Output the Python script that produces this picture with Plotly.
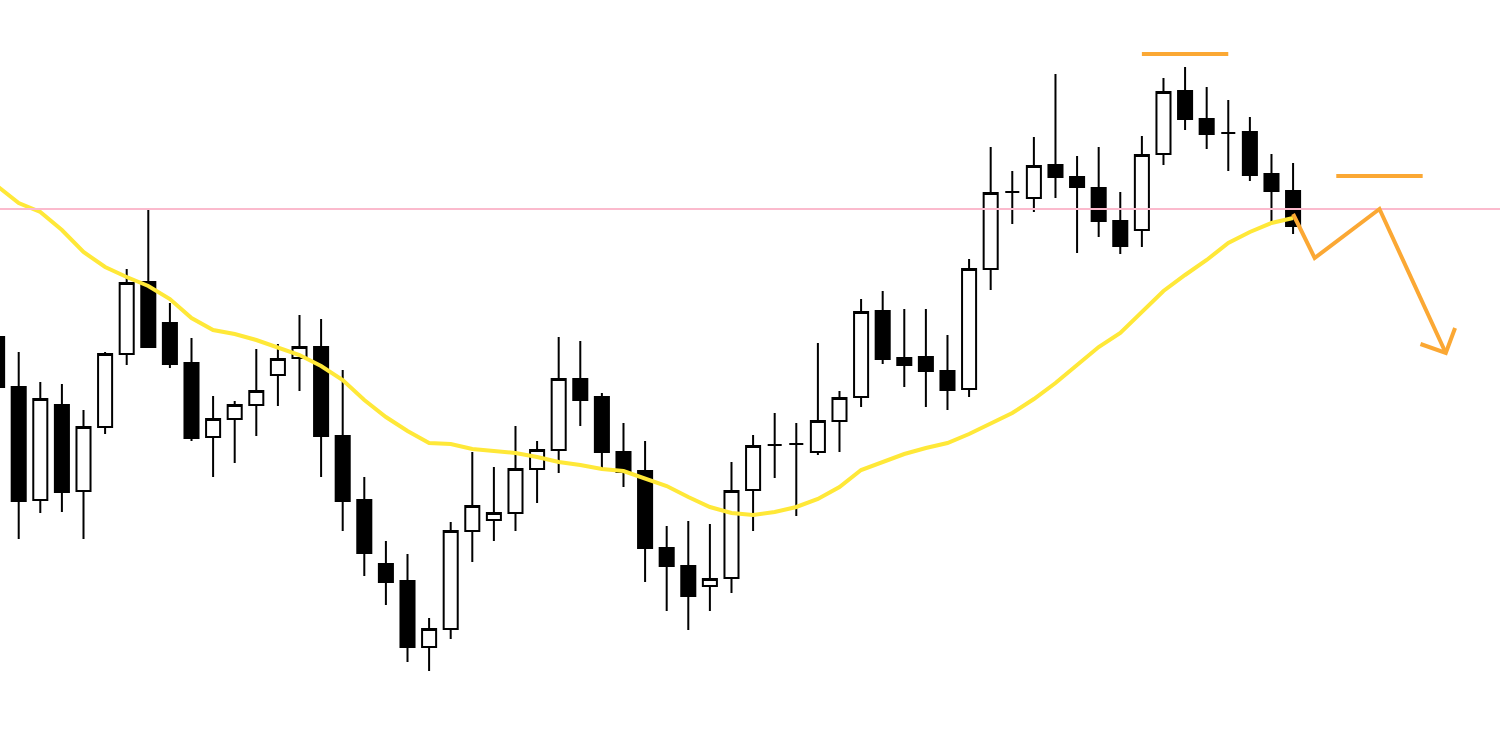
import plotly.graph_objects as go

# ---- data (price units) ----
bar_index = list(range(61))

opens = [403, 353, 240, 335, 249, 313, 386, 458, 417, 377,
         303, 321, 335, 365, 382, 393, 304, 240, 176, 159,
         93, 111, 209, 220, 227, 271, 290, 361, 343, 288,
         269, 192, 174, 154, 162, 250, 295, 296, 288, 319,
         343, 429, 382, 383, 369, 351, 471, 548, 542, 575,
         563, 552, 519, 510, 586, 649, 621, 607, 608, 566,
         549]
highs = [405, 388, 358, 356, 330, 388, 471, 530, 437, 402,
         344, 339, 391, 396, 425, 421, 370, 263, 199, 186,
         122, 218, 288, 273, 314, 299, 403, 399, 347, 317,
         299, 214, 219, 216, 278, 305, 327, 317, 397, 349,
         441, 449, 431, 431, 405, 481, 593, 569, 603, 666,
         584, 593, 548, 604, 662, 673, 653, 640, 623, 586,
         577]
lows = [350, 201, 227, 228, 201, 306, 375, 392, 372, 299,
        263, 277, 304, 334, 349, 263, 209, 164, 135, 78,
        69, 101, 178, 199, 209, 237, 267, 314, 271, 253,
        158, 129, 110, 129, 147, 209, 262, 224, 285, 288,
        333, 376, 353, 333, 330, 343, 450, 516, 528, 542,
        487, 503, 486, 493, 575, 610, 591, 569, 559, 517,
        506]
closes = [353, 239, 341, 248, 313, 386, 457, 393, 376, 302,
          321, 335, 349, 381, 393, 304, 239, 187, 158, 93,
          111, 209, 234, 227, 271, 290, 361, 340, 288, 268,
          192, 174, 144, 161, 249, 294, 295, 296, 319, 342,
          428, 381, 375, 369, 350, 471, 547, 548, 574, 563,
          553, 519, 494, 585, 648, 621, 606, 607, 565, 549,
          514]

ma_values = [554, 537, 528, 510, 488, 473, 463, 454, 441, 422,
             410, 406, 400, 392, 385, 374, 360, 340, 323, 309,
             297, 296, 291, 289, 287, 283, 278, 275, 271, 269,
             262, 254, 243, 233, 227, 225, 228, 233, 241, 253,
             270, 278, 286, 292, 297, 306, 316, 327, 341, 357,
             375, 393, 407, 428, 449, 465, 480, 497, 508, 517,
             522]

level_price = 531            # pink horizontal level

top_level_x = [53, 57]
top_level_y = [686, 686]
right_level_x = [62, 66]
right_level_y = [564, 564]

path_x = [60, 61, 64, 67.07]
path_y = [526, 482, 531, 387]
head_x = [65.9, 67.07, 67.5]
head_y = [396, 387, 412]

x_range = [0.134, 69.58]
y_range = [0, 740]

# ---- styles ----
YELLOW = "#FFE838"
PINK = "#FBBACD"
ORANGE = "#FBA834"

fig = go.Figure()

fig.add_trace(go.Scatter(x=bar_index, y=ma_values, mode="lines",
                         line=dict(color=YELLOW, width=4),
                         hoverinfo="skip", showlegend=False))

fig.add_trace(go.Candlestick(
    x=bar_index, open=opens, high=highs, low=lows, close=closes,
    increasing=dict(fillcolor="white", line=dict(color="black", width=2)),
    decreasing=dict(fillcolor="black", line=dict(color="black", width=2)),
    whiskerwidth=0, showlegend=False))

fig.add_trace(go.Scatter(x=x_range, y=[level_price, level_price], mode="lines",
                         line=dict(color=PINK, width=2),
                         hoverinfo="skip", showlegend=False))

for xs, ys in [(top_level_x, top_level_y), (right_level_x, right_level_y),
               (path_x, path_y), (head_x, head_y)]:
    fig.add_trace(go.Scatter(x=xs, y=ys, mode="lines",
                             line=dict(color=ORANGE, width=4),
                             hoverinfo="skip", showlegend=False))

fig.update_layout(
    width=1500, height=740,
    margin=dict(l=0, r=0, t=0, b=0),
    paper_bgcolor="white", plot_bgcolor="white",
    boxgap=0.35, boxgroupgap=0,
    showlegend=False,
    xaxis=dict(range=x_range, visible=False, rangeslider=dict(visible=False),
               showgrid=False, zeroline=False),
    yaxis=dict(range=y_range, visible=False, showgrid=False, zeroline=False),
)

fig.write_html("out.html", config={"displayModeBar": False},
               post_script="document.body.style.margin='0';document.body.style.overflow='hidden';")
